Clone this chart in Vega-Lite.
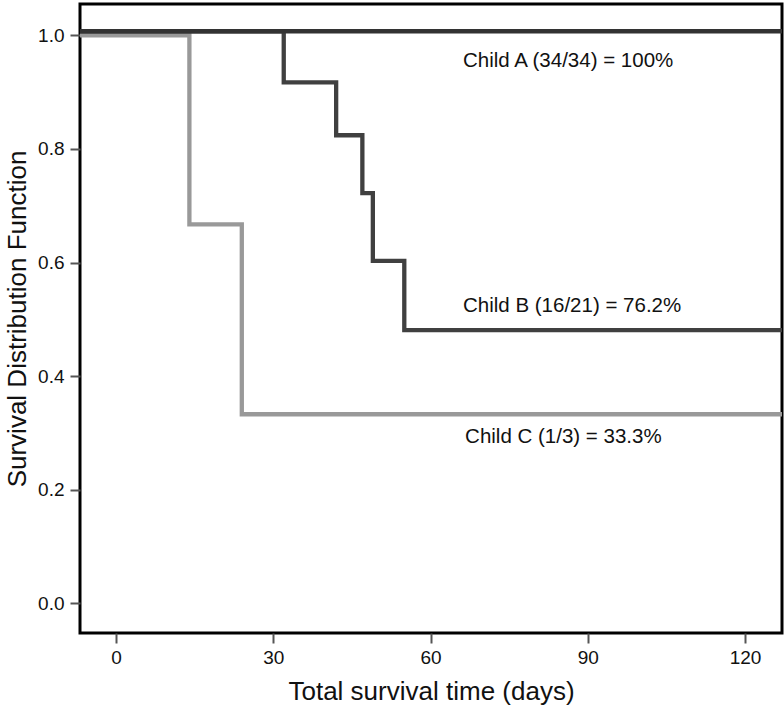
{
  "$schema": "https://vega.github.io/schema/vega-lite/v6.json",
  "width": 702,
  "height": 629,
  "autosize": {"type": "none"},
  "padding": {"left": 80, "top": 4, "right": 2, "bottom": 78},
  "background": "white",
  "config": {
    "view": {"stroke": "black", "strokeWidth": 3},
    "font": "Liberation Sans",
    "axis": {
      "domain": false,
      "grid": false,
      "tickColor": "#555555",
      "tickWidth": 2,
      "tickSize": 10,
      "labelFont": "Liberation Sans",
      "labelFontSize": 19,
      "labelColor": "#111111",
      "titleFont": "Liberation Sans",
      "titleFontSize": 26,
      "titleFontWeight": "normal",
      "titleColor": "#111111"
    }
  },
  "datasets": {
    "curves": [
      {"series": "Child C", "day": -7, "survival": 1.0},
      {"series": "Child C", "day": 14, "survival": 0.667},
      {"series": "Child C", "day": 24, "survival": 0.333},
      {"series": "Child C", "day": 127, "survival": 0.333},
      {"series": "Child B", "day": -7, "survival": 1.007},
      {"series": "Child B", "day": 32, "survival": 0.917},
      {"series": "Child B", "day": 42, "survival": 0.824},
      {"series": "Child B", "day": 47, "survival": 0.722},
      {"series": "Child B", "day": 49, "survival": 0.603},
      {"series": "Child B", "day": 55, "survival": 0.481},
      {"series": "Child B", "day": 127, "survival": 0.481},
      {"series": "Child A", "day": -7, "survival": 1.007},
      {"series": "Child A", "day": 127, "survival": 1.007}
    ],
    "labels": [
      {"label": "Child A (34/34) = 100%", "day": 66.2, "survival": 0.944},
      {"label": "Child B (16/21) = 76.2%", "day": 66.2, "survival": 0.513},
      {"label": "Child C (1/3) = 33.3%", "day": 66.6, "survival": 0.282}
    ]
  },
  "layer": [
    {
      "data": {"name": "curves"},
      "mark": {"type": "line", "interpolate": "step-after", "clip": true, "strokeCap": "square"},
      "encoding": {
        "x": {
          "field": "day", "type": "quantitative",
          "scale": {"domain": [-6.87, 127.06], "nice": false, "zero": false},
          "axis": {"values": [0, 30, 60, 90, 120], "title": "Total survival time (days)", "labelPadding": 5, "titlePadding": 11}
        },
        "y": {
          "field": "survival", "type": "quantitative",
          "scale": {"domain": [-0.052, 1.055], "nice": false, "zero": false},
          "axis": {"values": [0, 0.2, 0.4, 0.6, 0.8, 1.0], "format": ".1f", "title": "Survival Distribution Function", "labelPadding": 6, "titlePadding": 7}
        },
        "color": {
          "field": "series", "type": "nominal",
          "scale": {"domain": ["Child A", "Child B", "Child C"], "range": ["#333333", "#404040", "#999999"]},
          "legend": null
        },
        "strokeWidth": {
          "field": "series", "type": "nominal",
          "scale": {"domain": ["Child A", "Child B", "Child C"], "range": [4.3, 4.3, 3.5]},
          "legend": null
        }
      }
    },
    {
      "data": {"name": "labels"},
      "mark": {"type": "text", "align": "left", "baseline": "alphabetic", "fontSize": 20.5, "font": "Liberation Sans", "color": "#111111"},
      "encoding": {
        "x": {"field": "day", "type": "quantitative"},
        "y": {"field": "survival", "type": "quantitative"},
        "text": {"field": "label"}
      }
    }
  ]
}
